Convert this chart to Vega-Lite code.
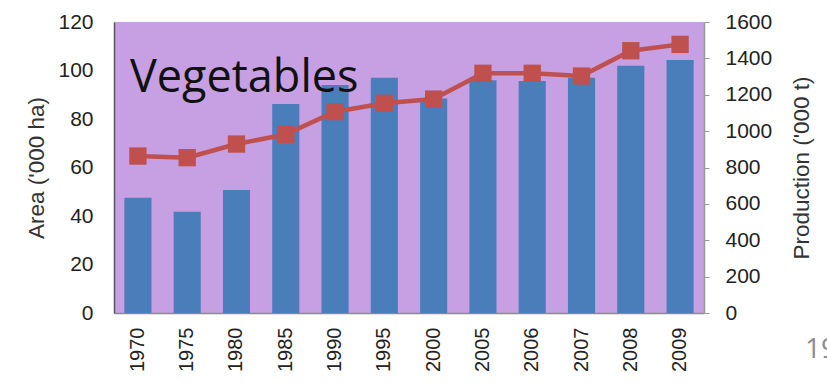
{
  "$schema": "https://vega.github.io/schema/vega-lite/v6.json",
  "autosize": {"type": "none"},
  "width": 590,
  "height": 291,
  "padding": {"left": 114, "top": 22, "right": 123, "bottom": 76},
  "background": "white",
  "title": {
    "text": "Vegetables",
    "anchor": "start",
    "frame": "group",
    "orient": "top",
    "baseline": "alphabetic",
    "offset": -71,
    "dy": 55,
    "dx": 16,
    "font": "Open Sans",
    "fontSize": 45,
    "fontWeight": "normal",
    "color": "#111111"
  },
  "config": {
    "view": {"fill": "#C6A0E2", "stroke": null},
    "axis": {
      "labelFont": "Liberation Sans",
      "titleFont": "Liberation Sans",
      "labelColor": "#222222",
      "titleColor": "#333333",
      "grid": false
    }
  },
  "data": {
    "values": [
      {"Year": "1970", "Area": 47.5, "Production": 863},
      {"Year": "1975", "Area": 41.8, "Production": 854},
      {"Year": "1980", "Area": 50.7, "Production": 929},
      {"Year": "1985", "Area": 86.2, "Production": 982},
      {"Year": "1990", "Area": 94, "Production": 1107},
      {"Year": "1995", "Area": 97, "Production": 1153},
      {"Year": "2000", "Area": 88.5, "Production": 1176},
      {"Year": "2005", "Area": 96, "Production": 1318},
      {"Year": "2006", "Area": 95.7, "Production": 1318},
      {"Year": "2007", "Area": 97, "Production": 1303},
      {"Year": "2008", "Area": 102, "Production": 1442},
      {"Year": "2009", "Area": 104.3, "Production": 1477}
    ]
  },
  "encoding": {
    "x": {
      "field": "Year",
      "type": "ordinal",
      "sort": null,
      "scale": {"paddingInner": 0.45, "paddingOuter": 0.21},
      "axis": {
        "title": null,
        "labelAngle": -90,
        "labelFontSize": 20,
        "labelPadding": 14,
        "ticks": false,
        "tickSize": 0,
        "domainColor": "#8a8a8a",
        "domainWidth": 1.5
      }
    }
  },
  "layer": [
    {
      "layer": [
        {
          "mark": {"type": "bar", "color": "#4A7EBB"},
          "encoding": {
            "y": {
              "field": "Area",
              "type": "quantitative",
              "scale": {"domain": [0, 120]},
              "axis": {
                "title": "Area ('000 ha)",
                "titleFontSize": 22.5,
                "titleFontWeight": "normal",
                "titlePadding": 9,
                "values": [0, 20, 40, 60, 80, 100, 120],
                "labelFontSize": 21,
                "labelPadding": 21,
                "labelOverlap": false,
                "ticks": false,
                "tickSize": 0,
                "domainColor": "#555555",
                "domainWidth": 1.5
              }
            }
          }
        },
        {
          "data": {"values": [{"label": "19"}]},
          "mark": {
            "type": "text",
            "align": "left",
            "baseline": "alphabetic",
            "dx": 125,
            "dy": 45,
            "font": "Open Sans",
            "fontSize": 28,
            "color": "#8c8c8c"
          },
          "encoding": {
            "x": {"datum": "2009"},
            "y": {"datum": 0},
            "text": {"field": "label"}
          }
        }
      ]
    },
    {
      "encoding": {
        "y": {
          "field": "Production",
          "type": "quantitative",
          "scale": {"domain": [0, 1600]},
          "axis": {
            "orient": "right",
            "title": "Production ('000 t)",
            "titleAngle": -90,
            "titleFontSize": 22.5,
            "titleFontWeight": "normal",
            "titlePadding": 42,
            "values": [0, 200, 400, 600, 800, 1000, 1200, 1400, 1600],
            "format": "d",
            "labelOverlap": false,
            "labelFontSize": 21,
            "labelPadding": 16,
            "tickSize": 5,
            "tickColor": "#999999",
            "domainColor": "#999999",
            "domainWidth": 1.5
          }
        }
      },
      "layer": [
        {
          "mark": {"type": "line", "color": "#C0504D", "strokeWidth": 4.5}
        },
        {
          "mark": {"type": "point", "shape": "square", "filled": true, "color": "#C0504D", "size": 300, "opacity": 1}
        }
      ]
    }
  ],
  "resolve": {"scale": {"y": "independent"}}
}
